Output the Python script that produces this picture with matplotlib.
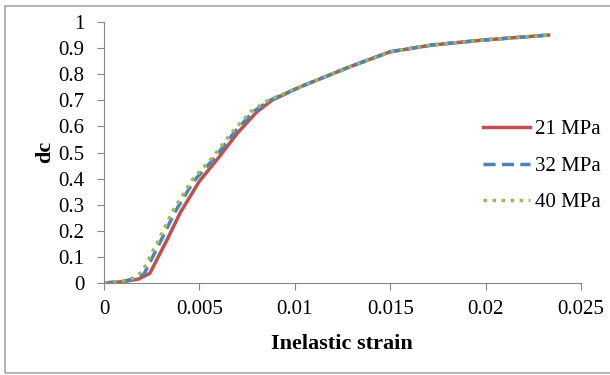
import matplotlib
matplotlib.use("Agg")
import matplotlib.pyplot as plt
from matplotlib.patches import Rectangle

# inelastic strain vs compressive damage dc, three concrete strengths
strain_21 = [0, 0.001, 0.0018, 0.0024, 0.0033, 0.0040, 0.0050, 0.0060, 0.0070, 0.0080,
             0.0088, 0.0103, 0.0129, 0.0150, 0.0172, 0.0199, 0.0233]
dc_21 = [0, 0.005, 0.015, 0.037, 0.165, 0.27, 0.39, 0.48, 0.575, 0.655,
         0.70, 0.752, 0.829, 0.886, 0.912, 0.931, 0.95]

strain_32 = [0, 0.001, 0.0016, 0.0021, 0.0030, 0.0037, 0.0047, 0.0058, 0.0068, 0.0078,
             0.0087, 0.0103, 0.0129, 0.0150, 0.0172, 0.0199, 0.0233]
dc_32 = [0, 0.006, 0.017, 0.035, 0.165, 0.27, 0.39, 0.48, 0.575, 0.655,
         0.70, 0.752, 0.829, 0.886, 0.912, 0.931, 0.95]

strain_40 = [0, 0.001, 0.0015, 0.0020, 0.0029, 0.0036, 0.0046, 0.0057, 0.0067, 0.0077,
             0.0086, 0.0103, 0.0129, 0.0150, 0.0172, 0.0199, 0.0233]
dc_40 = [0, 0.007, 0.018, 0.043, 0.17, 0.275, 0.393, 0.482, 0.577, 0.657,
         0.70, 0.752, 0.829, 0.886, 0.912, 0.931, 0.95]

labels = ["21 MPa", "32 MPa", "40 MPa"]
xticks = [0, 0.005, 0.01, 0.015, 0.02, 0.025]
xtick_labels = ["0", "0.005", "0.01", "0.015", "0.02", "0.025"]
yticks = [0, 0.1, 0.2, 0.3, 0.4, 0.5, 0.6, 0.7, 0.8, 0.9, 1.0]
ytick_labels = ["0", "0.1", "0.2", "0.3", "0.4", "0.5", "0.6", "0.7", "0.8", "0.9", "1"]

plt.rcParams["font.family"] = ["Liberation Serif", "DejaVu Serif"]

fig = plt.figure(figsize=(6.1, 3.75), dpi=100)
ax = fig.add_axes([0.1705, 0.2453, 0.782, 0.696])

ax.plot(strain_21, dc_21, color="#C0504D", lw=2.5, ls="-", label=labels[0])
ax.plot(strain_32, dc_32, color="#4F81BD", lw=2.5, ls=(0, (3.5, 1.8)), label=labels[1])
ax.plot(strain_40, dc_40, color="#9BBB59", lw=2.5, ls=(0, (1, 1.6)), label=labels[2])

ax.set_xlim(0, 0.025)
ax.set_ylim(0, 1)
ax.set_xticks(xticks)
ax.set_xticklabels(xtick_labels)
ax.set_yticks(yticks)
ax.set_yticklabels(ytick_labels)

for s in ("top", "right"):
    ax.spines[s].set_visible(False)
for s in ("left", "bottom"):
    ax.spines[s].set_color("#868686")
ax.tick_params(direction="out", length=5, color="#868686", labelsize=15)
ax.tick_params(axis="x", pad=7)
ax.tick_params(axis="y", pad=9)

ax.set_xlabel("Inelastic strain", fontsize=16, fontweight="bold")
ax.xaxis.label.set_va("center")
ax.xaxis.set_label_coords(0.499, -0.235)
ax.set_ylabel("dc", fontsize=16, fontweight="bold")
ax.yaxis.label.set_va("center")
ax.yaxis.set_label_coords(-0.124, 0.502)

ax.legend(loc="center left", bbox_to_anchor=(483 / 610, 1 - 166 / 375),
          bbox_transform=fig.transFigure, frameon=False, fontsize=15,
          handlelength=2.25, handletextpad=0.25, labelspacing=0.82,
          borderaxespad=0, borderpad=0)

fig.patches.append(Rectangle((0.0074, 0.006), 1.1, 0.9767, transform=fig.transFigure,
                             fill=False, edgecolor="#A0A0A0", lw=1.1))

fig.savefig("out.png", dpi=100)
